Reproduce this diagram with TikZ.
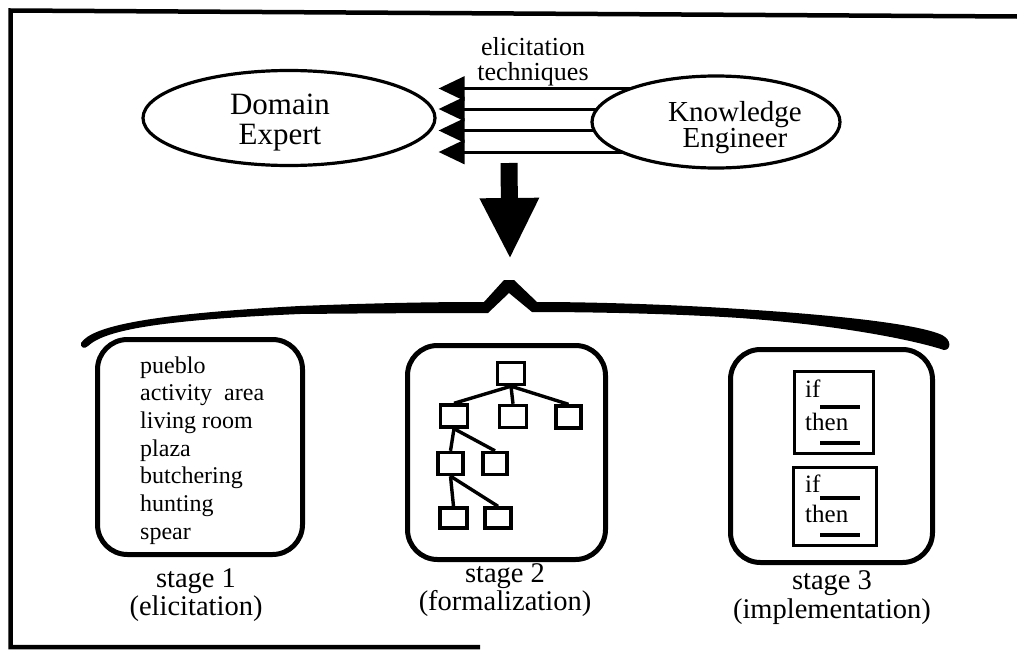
\documentclass[tikz,border=0pt]{standalone}
\usepackage{fontspec}
\setmainfont{Liberation Serif}
\usetikzlibrary{arrows.meta,shapes.geometric}
\pgfdeclarelayer{back}
\pgfsetlayers{back,main}

\begin{document}
\begin{tikzpicture}[x=1pt,y=-1pt,
  actor/.style={draw,ellipse,line width=3.2pt,inner sep=0pt,fill=white},
  bigtext/.style={align=center,inner sep=0pt},
  elic/.style={line width=3pt,-{Triangle[length=26pt,width=24pt]}},
  stagebox/.style={draw,rectangle,rounded corners=30pt,line width=5pt,inner sep=0pt},
  treebox/.style={draw,rectangle,line width=3.4pt,minimum width=27pt,minimum height=22pt,inner sep=0pt},
  treeedge/.style={line width=3.4pt},
  rulebox/.style={draw,rectangle,line width=3pt,inner sep=0pt},
  ruletext/.style={font=\fontsize{25}{25}\selectfont,anchor=base west,inner sep=0pt},
  blank/.style={line width=3.5pt},
  listtext/.style={font=\fontsize{24}{24}\selectfont,anchor=base west,inner sep=0pt},
  stagetext/.style={font=\fontsize{28.5}{28}\selectfont,anchor=base,inner sep=0pt}
]
\useasboundingbox (0,0) rectangle (1017,653);
\begin{pgfonlayer}{back}
  \fill[white] (0,0) rectangle (1017,653);
\end{pgfonlayer}

% open frame
\draw[line width=4.5pt] (1017,16.5) -- (10.5,10.5) -- (10.5,647) -- (480,647);

% the two participants
\node[actor,minimum width=292pt,minimum height=95pt] (DE) at (289,118) {};
\node[bigtext,font=\fontsize{31}{30}\selectfont] (DEtext) at (280,123) {Domain\\Expert};
\node[actor,minimum width=248pt,minimum height=92pt] (KE) at (716,122) {};
\node[bigtext,font=\fontsize{29}{26.5}\selectfont] (KEtext) at (735,127.5) {Knowledge\\Engineer};

\node[font=\fontsize{26}{25}\selectfont,align=center,inner sep=0pt] (tech) at (533,61.5) {elicitation\\techniques};

% elicitation channels, running out of the engineer's ellipse
\begin{pgfonlayer}{back}
  \foreach \y in {88.5,109,130.5,152}
    \draw[elic] (KE.center |- 0,\y) -- ([xshift=2pt]DE.east |- 0,\y);
\end{pgfonlayer}

% big downward arrow
\coordinate (arrtop) at (509,163);
\coordinate (arrtip) at (510,259);
\draw[line width=17pt,-{Triangle[length=61pt,width=55pt]}] (arrtop) -- (arrtip);

% brace over the three stages
\fill (81,343) .. controls (92,326) and (150,314) .. (300,306)
  .. controls (400,302) and (460,302) .. (484,302) -- (504,280) -- (514,280) -- (537,302)
  .. controls (600,302) and (680,305) .. (740,309)
  .. controls (850,316) and (920,325) .. (942,335)
  .. controls (952,340) and (951,350) .. (944,350)
  .. controls (920,342) and (850,326) .. (740,318)
  .. controls (680,314) and (600,312) .. (532,312) -- (509,293) -- (488,313)
  .. controls (460,313) and (400,313) .. (300,314)
  .. controls (160,320) and (105,330) .. (88,346)
  .. controls (85,349) and (80,348) .. (81,343) -- cycle;

% stage frames
\node[stagebox,minimum width=205pt,minimum height=215pt] (S1) at (200,447) {};
\node[stagebox,minimum width=198pt,minimum height=214pt] (S2) at (506.5,452.5) {};
\node[stagebox,minimum width=202pt,minimum height=213pt] (S3) at (831.5,456) {};

% stage 1: elicited terms
\node[listtext] (w1) at (140,373) {pueblo};
\node[listtext] (w2) at (140,400.7) {activity\ \ area};
\node[listtext] (w3) at (140,428.4) {living room};
\node[listtext] (w4) at (140,456.1) {plaza};
\node[listtext] (w5) at (140,483.8) {butchering};
\node[listtext] (w6) at (140,511.5) {hunting};
\node[listtext] (w7) at (140,539.2) {spear};

% stage 2: hierarchy
\node[treebox] (t0) at (511,373.5) {};
\node[treebox] (a) at (454,416) {};
\node[treebox] (b) at (513,416.5) {};
\node[treebox,minimum width=25pt] (c) at (568.5,417) {};
\node[treebox,minimum width=25pt] (d) at (450.5,463.5) {};
\node[treebox,minimum width=24pt] (e) at (495,463.5) {};
\node[treebox,minimum height=20pt] (f) at (453.5,518) {};
\node[treebox,minimum width=26pt,minimum height=20pt] (g) at (498,518) {};
\draw[treeedge] (t0.south) -- (a.north);
\draw[treeedge] (t0.south) -- (b.north);
\draw[treeedge] (t0.south) -- (c.north);
\draw[treeedge] (a.south) -- (d.north);
\draw[treeedge] (a.south) -- (e.north);
\draw[treeedge] (d.south) -- (f.north);
\draw[treeedge] (d.south) -- (g.north);

% stage 3: rules
\node[rulebox,minimum width=79pt,minimum height=82pt] (r1) at (833.5,412) {};
\node[rulebox,minimum width=83pt,minimum height=78pt] (r2) at (834.5,506) {};
\node[ruletext] (r1if) at (805,397) {if};
\node[ruletext] (r1then) at (805,430) {then};
\draw[blank] (820,407) -- (860,407);
\draw[blank] (820,443) -- (860,443);
\node[ruletext] (r2if) at (805,492) {if};
\node[ruletext] (r2then) at (805,522) {then};
\draw[blank] (820,498) -- (860,498);
\draw[blank] (820,535) -- (860,535);

% stage captions
\node[stagetext] (c1a) at (196,587) {stage 1};
\node[stagetext] (c1b) at (196,615) {(elicitation)};
\node[stagetext] (c2a) at (505,582) {stage 2};
\node[stagetext] (c2b) at (505,610) {(formalization)};
\node[stagetext] (c3a) at (832,589) {stage 3};
\node[stagetext] (c3b) at (832,618) {(implementation)};
\end{tikzpicture}
\end{document}
